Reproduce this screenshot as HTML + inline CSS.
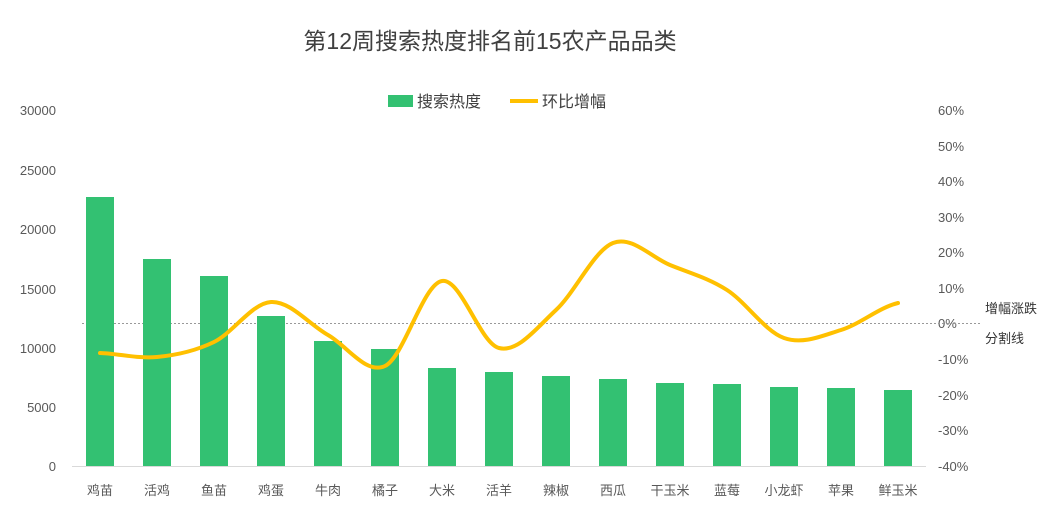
<!DOCTYPE html>
<html><head><meta charset="utf-8"><style>
html,body{margin:0;padding:0;background:#fff;}
svg{display:block;font-family:"Liberation Sans","Noto Sans CJK SC",sans-serif;}
</style></head><body>
<svg width="1052" height="528" viewBox="0 0 1052 528" xmlns="http://www.w3.org/2000/svg">
<rect width="1052" height="528" fill="#fff"/>
<text x="490" y="49" font-size="23" fill="#404040" text-anchor="middle">第12周搜索热度排名前15农产品品类</text>
<rect x="388" y="95" width="25" height="12" fill="#33c172"/>
<text x="417" y="107" font-size="16" fill="#404040">搜索热度</text>
<line x1="510" y1="101" x2="538" y2="101" stroke="#ffc000" stroke-width="4"/>
<text x="542" y="107" font-size="16" fill="#404040">环比增幅</text>
<g font-size="13" fill="#595959" text-anchor="end">
<text x="56" y="115">30000</text><text x="56" y="175">25000</text><text x="56" y="234">20000</text>
<text x="56" y="294">15000</text><text x="56" y="353">10000</text><text x="56" y="412">5000</text><text x="56" y="471">0</text>
</g>
<g font-size="13" fill="#595959" text-anchor="start">
<text x="938" y="115">60%</text><text x="938" y="151">50%</text><text x="938" y="186">40%</text>
<text x="938" y="222">30%</text><text x="938" y="257">20%</text><text x="938" y="293">10%</text>
<text x="938" y="328">0%</text><text x="938" y="364">-10%</text><text x="938" y="400">-20%</text>
<text x="938" y="435">-30%</text><text x="938" y="471">-40%</text>
</g>
<line x1="82" y1="323.5" x2="980" y2="323.5" stroke="#999" stroke-width="1" stroke-dasharray="2,2"/>
<text x="985" y="313" font-size="13" fill="#333">增幅涨跌</text>
<text x="985" y="343" font-size="13" fill="#333">分割线</text>
<g fill="#33c172">
<rect x="86" y="197" width="28" height="269"/>
<rect x="143" y="259" width="28" height="207"/>
<rect x="200" y="276" width="28" height="190"/>
<rect x="257" y="316" width="28" height="150"/>
<rect x="314" y="341" width="28" height="125"/>
<rect x="371" y="349" width="28" height="117"/>
<rect x="428" y="368" width="28" height="98"/>
<rect x="485" y="372" width="28" height="94"/>
<rect x="542" y="376" width="28" height="90"/>
<rect x="599" y="379" width="28" height="87"/>
<rect x="656" y="383" width="28" height="83"/>
<rect x="713" y="384" width="28" height="82"/>
<rect x="770" y="387" width="28" height="79"/>
<rect x="827" y="388" width="28" height="78"/>
<rect x="884" y="390" width="28" height="76"/>
</g>
<line x1="72" y1="466.5" x2="926" y2="466.5" stroke="#d9d9d9" stroke-width="1"/>
<path d="M100,353 C119,353.7 138,358.8 157,357 C176,355.2 195,351.2 214,342 C233,332.8 252,303.2 271,302 C290,300.8 309,324.3 328,335 C347,345.7 366,375 385,366 C404,357 423,284 442,281 C461,278 480,343.2 499,348 C518,352.8 537,327.5 556,310 C575,292.5 594,250.5 613,243 C632,235.5 651,257.2 670,265 C689,272.8 708,277.8 727,290 C746,302.2 765,331.3 784,338 C803,344.7 822,335.8 841,330 C860,324.2 879,307.5 898,303" fill="none" stroke="#ffc000" stroke-width="4" stroke-linecap="round"/>
<g font-size="13" fill="#595959" text-anchor="middle">
<text x="100" y="495">鸡苗</text><text x="157" y="495">活鸡</text><text x="214" y="495">鱼苗</text>
<text x="271" y="495">鸡蛋</text><text x="328" y="495">牛肉</text><text x="385" y="495">橘子</text>
<text x="442" y="495">大米</text><text x="499" y="495">活羊</text><text x="556" y="495">辣椒</text>
<text x="613" y="495">西瓜</text><text x="670" y="495">干玉米</text><text x="727" y="495">蓝莓</text>
<text x="784" y="495">小龙虾</text><text x="841" y="495">苹果</text><text x="898" y="495">鲜玉米</text>
</g>
</svg>
</body></html>
